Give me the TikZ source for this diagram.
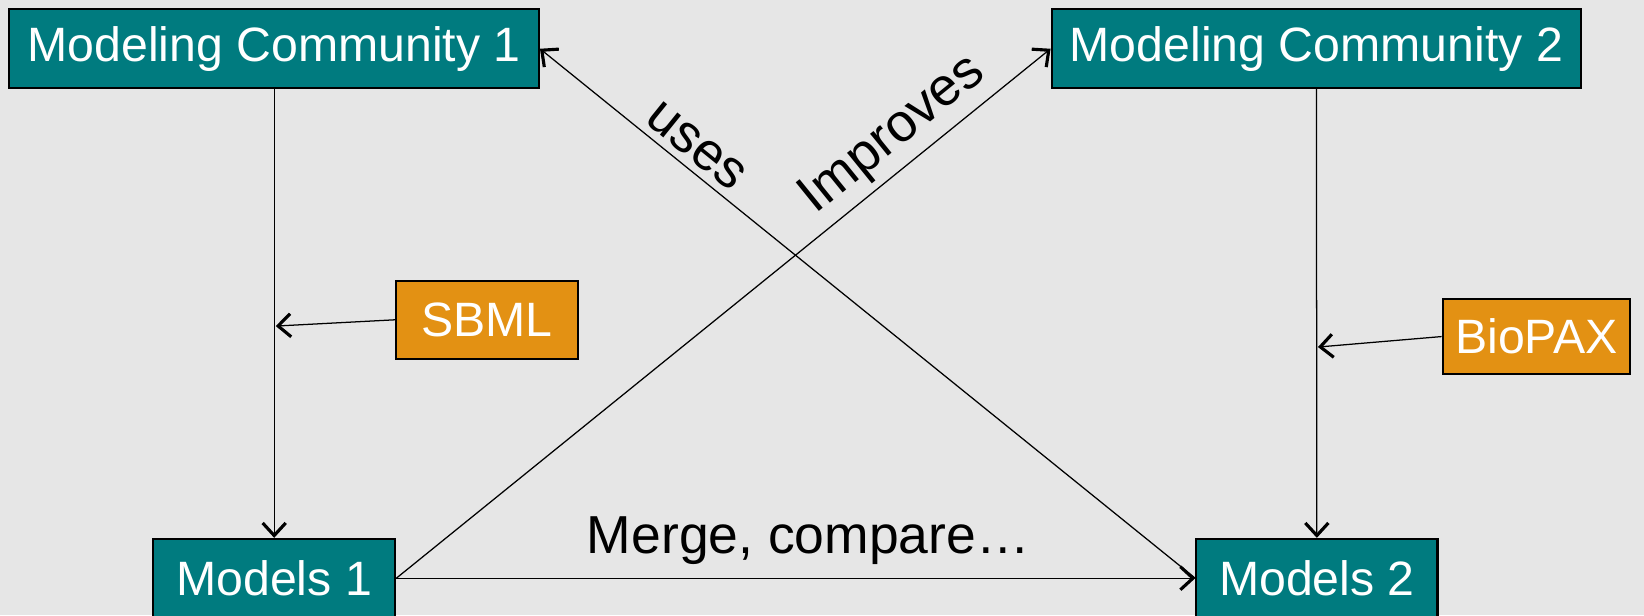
\documentclass[tikz,border=0pt]{standalone}
\usepackage{fontspec}
\setmainfont{Liberation Sans}
\usepackage{xcolor}
\usetikzlibrary{arrows.meta}
\definecolor{bgcol}{RGB}{230,230,230}
\definecolor{boxteal}{RGB}{0,123,127}
\definecolor{boxorange}{RGB}{227,145,19}

\begin{document}
\begin{tikzpicture}[x=0.5pt,y=-0.5pt,
        every node/.style={font=\fontsize{23}{27}\selectfont},
        group/.style={draw,line width=1pt,fill=boxteal,text=white,inner sep=0pt},
        format/.style={draw,line width=1pt,fill=boxorange,text=white,inner sep=0pt},
        tag/.style={font=\fontsize{25.5}{30}\selectfont},
        link/.style={line width=0.6pt,-{Straight Barb[length=6pt,width=11pt,line width=1.5pt]}}]
        \useasboundingbox (0,0) rectangle (1568,587);
        \fill[bgcol] (0,0) rectangle (1568,587);
        \node[group,minimum width=252.5pt,minimum height=37.5pt] (mc1) at (261.5,46.5) {Modeling Community 1};
        \node[group,minimum width=252.5pt,minimum height=37.5pt] (mc2) at (1255.5,46.5) {Modeling Community 2};
        \node[group,minimum width=115.5pt,minimum height=37.5pt] (m1) at (261.5,551.5) {Models 1};
        \node[group,minimum width=115pt,minimum height=37.5pt] (m2) at (1256,551.5) {Models 2};
        \node[format,minimum width=86.5pt,minimum height=37pt] (sbml) at (464.5,305) {SBML};
        \node[format,minimum width=89.5pt,minimum height=36pt] (biopax) at (1465.5,321) {BioPAX};
        \coordinate (sbmlin) at (263,311);
        \coordinate (biopaxin) at (1257,331);
        \draw[link] (mc1) -- (m1);
        \draw[link] (mc2) -- (m2);
        \draw[link] (sbml.west) -- (sbmlin);
        \draw[link] (biopax.west) -- (biopaxin);
        \draw[link] (m1.east) -- (m2.west) node[tag,midway,above,xshift=6pt,yshift=3pt] {Merge, compare…};
        \draw[link] (m2.west) -- (mc1.east) node[tag,pos=0.783,sloped,above] {uses};
        \draw[link] (m1.east) -- (mc2.west) node[tag,pos=0.79,sloped,above] {Improves};
\end{tikzpicture}
\end{document}
